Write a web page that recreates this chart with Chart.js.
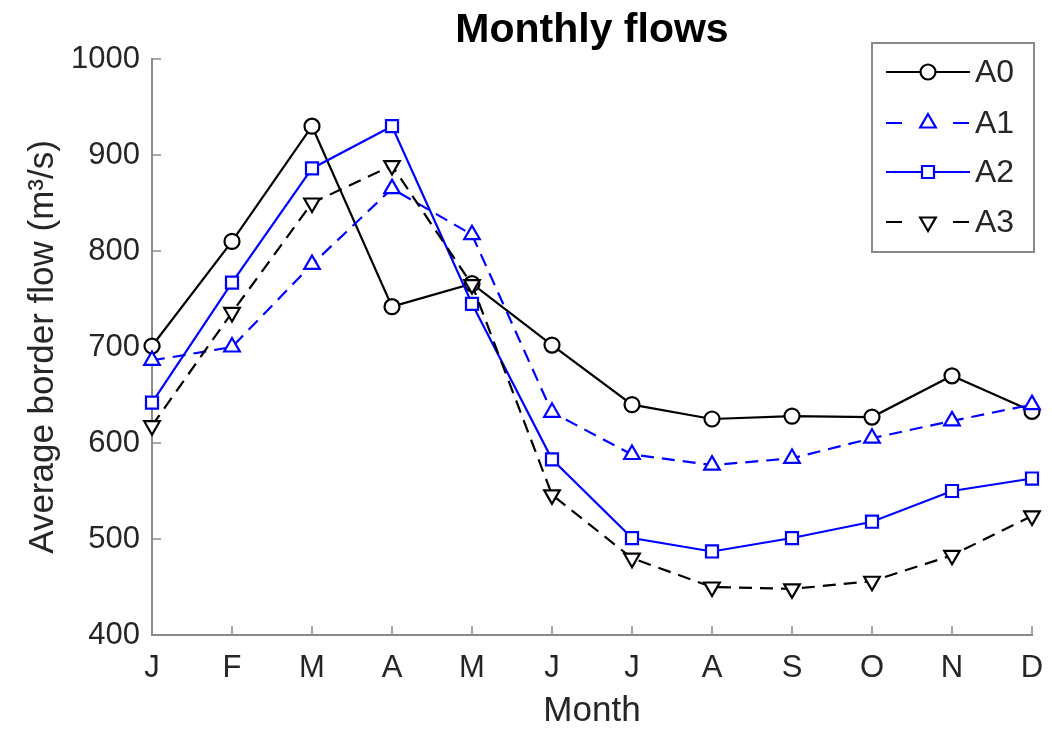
<!DOCTYPE html>
<html>
<head>
<meta charset="utf-8">
<script src="https://cdn.jsdelivr.net/npm/chart.js@4.4.0/dist/chart.umd.min.js"></script>
<style>
  body { margin: 0; background: #fff; }
  #wrap { width: 1052px; height: 729px; }
</style>
</head>
<body>
<div id="wrap"><canvas id="flowChart"></canvas></div>
<script>
const months = ['J', 'F', 'M', 'A', 'M', 'J', 'J', 'A', 'S', 'O', 'N', 'D'];
const a0 = [701, 810, 930, 742, 766, 702, 640, 625, 628, 627, 670, 633];
const a1 = [686, 700, 786, 865, 817, 632, 588, 577, 584, 605, 623, 640];
const a2 = [642, 767, 886, 930, 745, 583, 501, 487, 501, 518, 550, 563];
const a3 = [618, 736, 850, 889, 765, 546, 480, 450, 448, 456, 483, 524];
const yTicks = [400, 500, 600, 700, 800, 900, 1000];

const FONT = "'Liberation Sans', Arial, Helvetica, sans-serif";
const AXIS_GRAY = '#8a8a8a';
const TEXT_GRAY = '#262626';

// MATLAB style ticks pointing into the plot
const inwardTicks = {
    id: 'inwardTicks',
    beforeDatasetsDraw(chart) {
        const { ctx, chartArea, scales: { x, y } } = chart;
        ctx.save();
        ctx.strokeStyle = AXIS_GRAY;
        ctx.lineWidth = 1.5;
        ctx.beginPath();
        months.forEach((m, i) => {
            const px = x.getPixelForValue(i);
            ctx.moveTo(px, chartArea.bottom);
            ctx.lineTo(px, chartArea.bottom - 9);
        });
        yTicks.forEach(v => {
            const py = y.getPixelForValue(v);
            ctx.moveTo(chartArea.left, py);
            ctx.lineTo(chartArea.left + 9, py);
        });
        ctx.stroke();
        ctx.restore();
    }
};

// legend box with line - marker - line samples
const boxLegend = {
    id: 'boxLegend',
    afterDraw(chart) {
        const { ctx } = chart;
        const box = { left: 872, top: 43, right: 1034, bottom: 252 };
        const rows = [72, 123, 172, 222];
        ctx.save();
        ctx.fillStyle = '#fff';
        ctx.fillRect(box.left, box.top, box.right - box.left, box.bottom - box.top);
        ctx.strokeStyle = AXIS_GRAY;
        ctx.lineWidth = 2;
        ctx.strokeRect(box.left, box.top, box.right - box.left, box.bottom - box.top);

        chart.data.datasets.forEach((ds, i) => {
            const yy = rows[i];
            ctx.strokeStyle = ds.borderColor;
            ctx.lineWidth = ds.borderWidth;
            ctx.setLineDash([]);
            ctx.beginPath();
            if (ds.borderDash && ds.borderDash.length) {
                ctx.moveTo(886, yy); ctx.lineTo(902, yy);
                ctx.moveTo(953, yy); ctx.lineTo(969, yy);
            } else {
                ctx.moveTo(886, yy); ctx.lineTo(970, yy);
            }
            ctx.stroke();

            ctx.fillStyle = '#fff';
            ctx.strokeStyle = ds.borderColor;
            ctx.lineWidth = ds.pointBorderWidth;
            Chart.helpers.drawPoint(ctx, {
                pointStyle: ds.pointStyle,
                radius: ds.pointRadius,
                rotation: ds.pointRotation || 0,
                borderWidth: ds.pointBorderWidth
            }, 928, yy);

            ctx.fillStyle = TEXT_GRAY;
            ctx.font = '32px ' + FONT;
            ctx.textAlign = 'left';
            ctx.textBaseline = 'middle';
            ctx.fillText(ds.label, 975, yy + 1);
        });
        ctx.restore();
    }
};

const ctx = document.getElementById('flowChart').getContext('2d');

new Chart(ctx, {
    type: 'line',
    data: {
        labels: months,
        datasets: [
            {
                label: 'A0',
                data: a0,
                borderColor: '#000000',
                borderWidth: 2.2,
                pointStyle: 'circle',
                pointRadius: 7.5,
                pointBorderWidth: 2.2,
                pointBackgroundColor: '#fff',
                order: 3
            },
            {
                label: 'A1',
                data: a1,
                borderColor: '#0000ff',
                borderWidth: 2.2,
                borderDash: [13, 8],
                pointStyle: 'triangle',
                pointRadius: 9,
                pointBorderWidth: 2.2,
                pointBackgroundColor: '#fff',
                order: 2
            },
            {
                label: 'A2',
                data: a2,
                borderColor: '#0000ff',
                borderWidth: 2.2,
                pointStyle: 'rect',
                pointRadius: 8.5,
                pointBorderWidth: 2.2,
                pointBackgroundColor: '#fff',
                order: 1
            },
            {
                label: 'A3',
                data: a3,
                borderColor: '#000000',
                borderWidth: 2.2,
                borderDash: [13, 8],
                pointStyle: 'triangle',
                pointRotation: 180,
                pointRadius: 9,
                pointBorderWidth: 2.2,
                pointBackgroundColor: '#fff',
                order: 0
            }
        ]
    },
    options: {
        responsive: true,
        maintainAspectRatio: false,
        animation: false,
        clip: false,
        layout: {
            padding: { left: 0, right: 20, top: 0, bottom: 0 }
        },
        scales: {
            x: {
                grid: { display: true, drawOnChartArea: false, drawTicks: false },
                border: { display: true, color: AXIS_GRAY, width: 2 },
                ticks: {
                    color: TEXT_GRAY,
                    font: { family: FONT, size: 31 },
                    padding: 15,
                    maxRotation: 0,
                    minRotation: 0,
                    autoSkip: false
                },
                title: {
                    display: true,
                    text: 'Month',
                    color: TEXT_GRAY,
                    font: { family: FONT, size: 35, lineHeight: 1 },
                    padding: { top: 0, bottom: 0 }
                },
                afterFit(scale) {
                    scale.height = 94;
                    scale.paddingLeft = 0;
                    scale.paddingRight = 0;
                }
            },
            y: {
                min: 400,
                max: 1000,
                grid: { display: true, drawOnChartArea: false, drawTicks: false },
                border: { display: true, color: AXIS_GRAY, width: 2 },
                ticks: {
                    stepSize: 100,
                    color: TEXT_GRAY,
                    font: { family: FONT, size: 31 },
                    padding: 12,
                    callback: function (value) {
                        return String(value);
                    }
                },
                title: {
                    display: true,
                    text: 'Average border flow (m\u00B3/s)',
                    color: TEXT_GRAY,
                    font: { family: FONT, size: 35, lineHeight: 1 },
                    padding: { top: 26, bottom: 0 }
                },
                afterFit(scale) {
                    scale.width = 152;
                    scale.paddingTop = 0;
                    scale.paddingBottom = 0;
                }
            }
        },
        plugins: {
            legend: { display: false },
            tooltip: { enabled: false },
            title: {
                display: true,
                fullSize: false,
                text: 'Monthly flows',
                color: '#000',
                font: { family: FONT, size: 41, weight: 'bold', lineHeight: 1.2 },
                padding: { top: 6, bottom: 3.8 }
            }
        }
    },
    plugins: [inwardTicks, boxLegend]
});
</script>
</body>
</html>
